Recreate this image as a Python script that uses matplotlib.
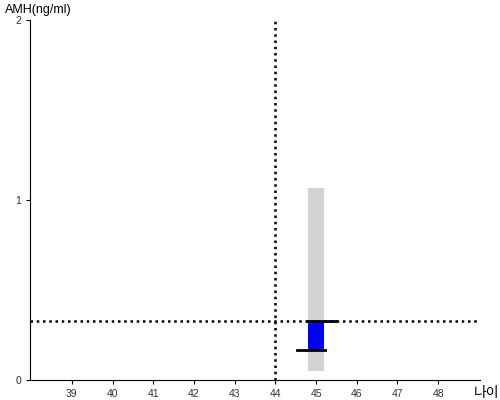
import matplotlib
matplotlib.use('Agg')
import matplotlib.pyplot as plt

plt.rcParams['font.family'] = ['Liberation Sans', 'Noto Sans CJK KR', 'DejaVu Sans']

# data
xTicks = [39, 40, 41, 42, 43, 44, 45, 46, 47, 48]
yTicks = [0, 1, 2]
refAge = 44
refAmh = 0.328

rangeAge = 45
rangeLow = 0.05
rangeHigh = 1.067

boxLow = 0.167
boxHigh = 0.328

markHigh = [44.78, 45.5]   # line at boxHigh
markLow = [44.53, 45.22]   # line at boxLow

fig = plt.figure(figsize=(5, 4), dpi=100)
ax = fig.add_axes([0.06, 0.05, 0.90, 0.90])

ax.bar(rangeAge, rangeHigh - rangeLow, bottom=rangeLow, width=0.39,
       color='#d3d3d3', zorder=1)
ax.bar(rangeAge, boxHigh - boxLow, bottom=boxLow, width=0.39,
       color='#0000ff', zorder=2)
ax.plot(markHigh, [boxHigh, boxHigh], '-', color='black', linewidth=2, zorder=3)
ax.plot(markLow, [boxLow, boxLow], '-', color='black', linewidth=2, zorder=3)

ax.axvline(refAge, color='black', linestyle=(0, (1, 1.5)), linewidth=1.8, zorder=4)
ax.axhline(refAmh, color='black', linestyle=(0, (1, 1.5)), linewidth=1.8, zorder=4)

ax.set_xlim(37.97, 49.03)
ax.set_ylim(0, 2)
ax.set_xticks(xTicks)
ax.set_yticks(yTicks)
ax.tick_params(labelsize=7.5, length=3, colors='black', labelcolor='#333333')
ax.spines['top'].set_visible(False)
ax.spines['right'].set_visible(False)

fig.text(0.01, 0.975, 'AMH(ng/ml)', fontsize=9, ha='left', va='center')
fig.text(0.948, 0.018, '나이', fontsize=10, ha='left', va='center',
         family=['Noto Sans CJK KR', 'DejaVu Sans'])

plt.savefig('out.png', dpi=100)
